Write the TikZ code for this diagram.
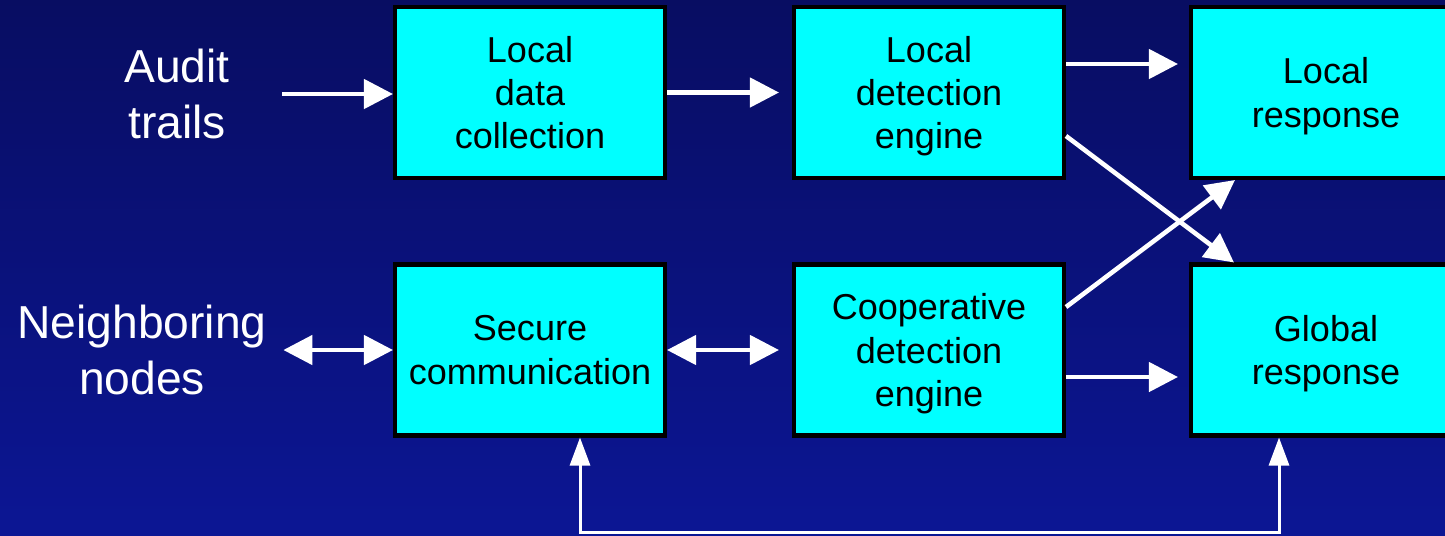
\documentclass[tikz,border=0pt]{standalone}
\usepackage{fontspec}
\setmainfont{Liberation Sans}
\usepackage{tikz}
\usetikzlibrary{arrows.meta}
\definecolor{bgtop}{RGB}{8,13,98}
\definecolor{bgbot}{RGB}{12,22,148}
\definecolor{boxfill}{RGB}{0,255,255}
\tikzstyle{block} = [rectangle, minimum width=5.4cm, minimum height=3.42cm, align=center, draw=black, line width=2.3pt, fill=boxfill, font=\fontsize{20.5}{24.6}\selectfont, text depth=0pt]
\tikzstyle{side} = [inner sep=0pt, align=center, text=white, font=\fontsize{26.3}{32}\selectfont]
\tikzstyle{arrow} = [white, line width=2.6pt, -{Triangle[length=0.58cm, width=0.58cm]}]
\tikzstyle{twoway} = [white, line width=2.6pt, {Triangle[length=0.58cm, width=0.58cm]}-{Triangle[length=0.58cm, width=0.58cm]}]
\tikzstyle{feedback} = [white, line width=1.7pt, {Triangle[length=0.56cm, width=0.4cm]}-{Triangle[length=0.56cm, width=0.4cm]}]

\begin{document}
\begin{tikzpicture}[node distance=5.15cm]
	\useasboundingbox (0,0) rectangle (28.9,-10.7);
	\clip (0,0) rectangle (28.9,-10.7);
	\shade [top color=bgtop, bottom color=bgbot] (0,0) rectangle (28.9,-10.7);
	% boxes
	\node (ldc) [block] at (10.6,-1.85) {Local\\data\\collection};
	\node (lde) [block, right of=ldc, xshift=2.83cm] {Local\\detection\\engine};
	\node (lr) [block, right of=lde, xshift=2.79cm] {Local\\response};
	\node (sc) [block, below of=ldc] {Secure\\communication};
	\node (cde) [block, below of=lde] {Cooperative\\detection\\engine};
	\node (gr) [block, below of=lr] {Global\\response};
	% inputs
	\node (audit) [side, text width=4.2cm] at (3.54,-1.88) {Audit\\trails};
	\node (nbr) [side, text width=5.64cm] at (2.84,-7.0) {Neighboring\\nodes};
	\coordinate (bus) at (0,-10.64);
	% arrows
	\draw [arrow] (audit.east) -- (audit.east -| ldc.west);
	\draw [arrow, shorten >=0.26cm] (ldc) -- (lde);
	\draw [arrow, shorten >=0.22cm] ([yshift=0.57cm]lde.east) -- ([yshift=0.57cm]lr.west);
	\draw [arrow] ([yshift=-0.87cm]lde.east) -- ([xshift=0.9cm]gr.north west);
	\draw [arrow] ([yshift=0.86cm]cde.east) -- ([xshift=0.92cm]lr.south west);
	\draw [arrow, shorten >=0.22cm] ([yshift=-0.54cm]cde.east) -- ([yshift=-0.54cm]gr.west);
	\draw [twoway] (nbr.east) -- (nbr.east -| sc.west);
	\draw [twoway, shorten >=0.26cm] (sc) -- (cde);
	\draw [feedback] ([xshift=1cm]sc.south) -- ([xshift=1cm]sc.south |- bus) -| ([xshift=-0.94cm]gr.south);
\end{tikzpicture}
\end{document}
